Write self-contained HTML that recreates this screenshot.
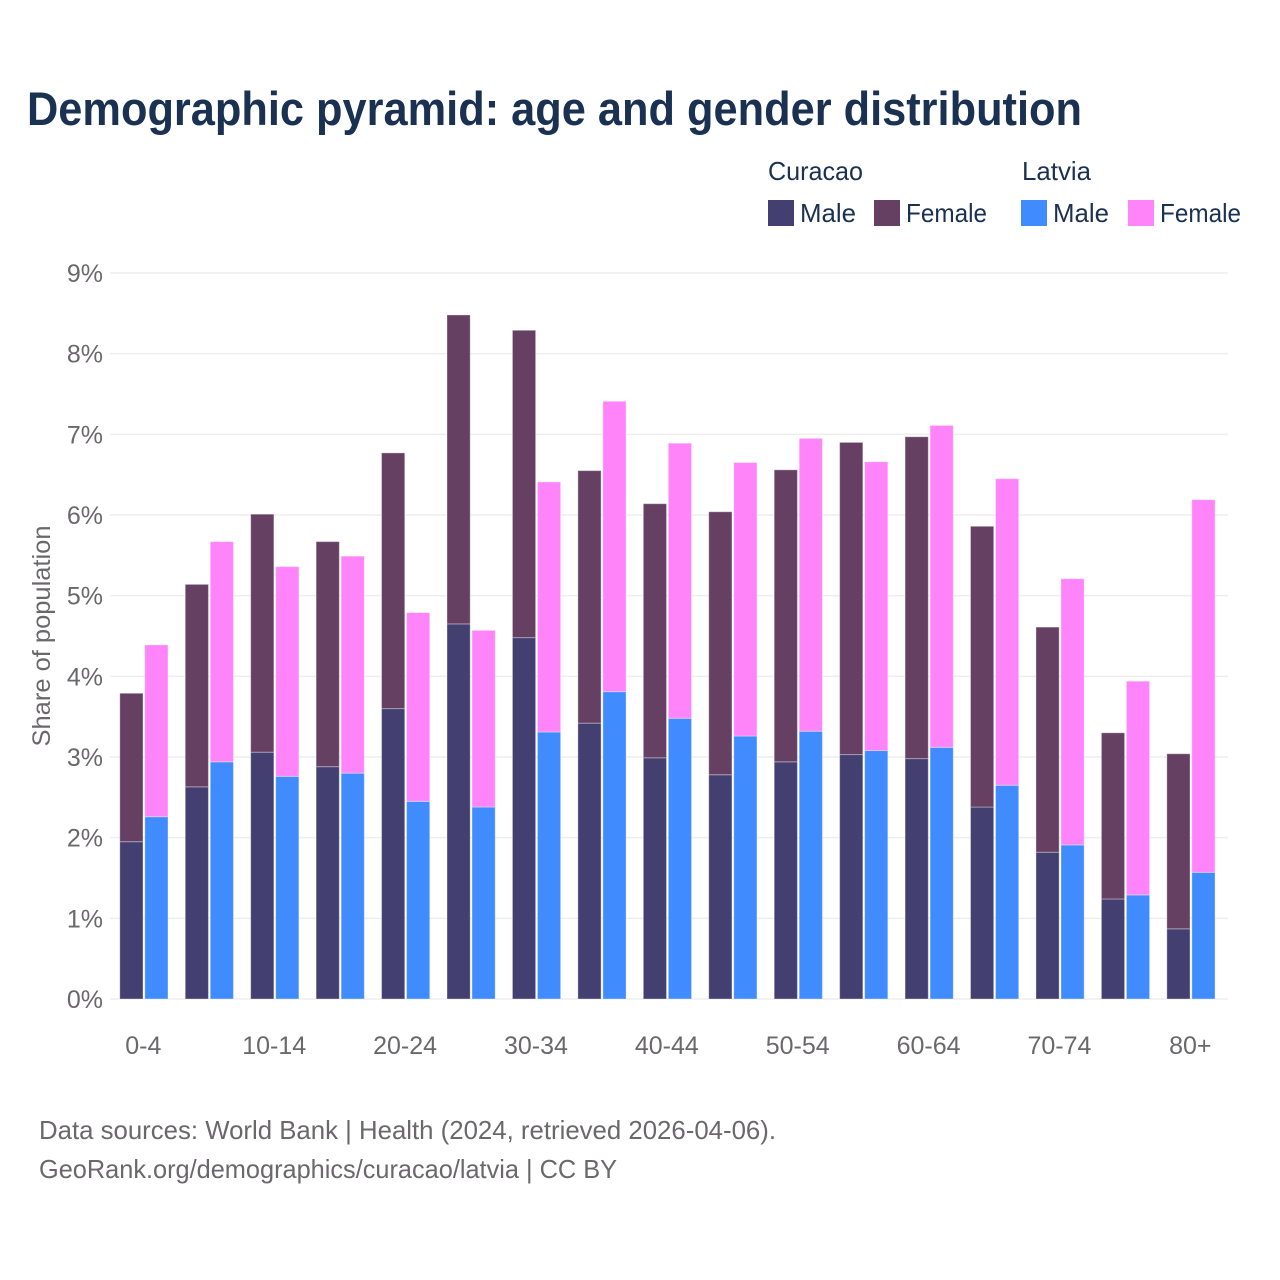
<!DOCTYPE html>
<html lang="en">
<head>
<meta charset="utf-8">
<title>Demographic pyramid: age and gender distribution</title>
<style>
html,body{margin:0;padding:0;background:#fff;}
svg{display:block;font-family:"Liberation Sans",sans-serif;}
</style>
</head>
<body>
<svg id="chart" xmlns="http://www.w3.org/2000/svg" width="1280" height="1280" viewBox="0 0 1280 1280">
  <rect width="1280" height="1280" fill="#ffffff"/>
  <text x="27" y="125" font-size="47" font-weight="700" fill="#1a3152" textLength="1055" lengthAdjust="spacingAndGlyphs">Demographic pyramid: age and gender distribution</text>

  <g font-size="26" fill="#1a3152">
    <text x="768" y="180" textLength="95" lengthAdjust="spacingAndGlyphs">Curacao</text>
    <text x="1022" y="180" textLength="69" lengthAdjust="spacingAndGlyphs">Latvia</text>
    <rect x="768" y="200" width="26" height="26" fill="#433f70"/>
    <text x="800" y="222" textLength="56" lengthAdjust="spacingAndGlyphs">Male</text>
    <rect x="874" y="200" width="26" height="26" fill="#654062"/>
    <text x="906" y="222" textLength="81" lengthAdjust="spacingAndGlyphs">Female</text>
    <rect x="1021" y="200" width="26" height="26" fill="#408cff"/>
    <text x="1053" y="222" textLength="56" lengthAdjust="spacingAndGlyphs">Male</text>
    <rect x="1128" y="200" width="26" height="26" fill="#ff84f9"/>
    <text x="1160" y="222" textLength="81" lengthAdjust="spacingAndGlyphs">Female</text>
  </g>

  <g id="grid"></g>
  <g id="yticks"></g>
  <g id="bars"></g>
  <g id="xticks"></g>

  <text transform="translate(50,636) rotate(-90)" text-anchor="middle" font-size="25" fill="#6b686c" textLength="221" lengthAdjust="spacingAndGlyphs">Share of population</text>

  <text x="39" y="1139" font-size="26" fill="#6b686c" textLength="737" lengthAdjust="spacingAndGlyphs">Data sources: World Bank | Health (2024, retrieved 2026-04-06).</text>
  <text x="39" y="1178" font-size="26" fill="#6b686c" textLength="578" lengthAdjust="spacingAndGlyphs">GeoRank.org/demographics/curacao/latvia | CC BY</text>
</svg>
<script>
const ageGroups = ["0-4","5-9","10-14","15-19","20-24","25-29","30-34","35-39","40-44","45-49","50-54","55-59","60-64","65-69","70-74","75-79","80+"];
const shownAgeLabels = ["0-4","10-14","20-24","30-34","40-44","50-54","60-64","70-74","80+"];
const curacaoMale = [1.95,2.63,3.06,2.88,3.60,4.65,4.48,3.42,2.99,2.78,2.94,3.03,2.98,2.38,1.82,1.24,0.87];
const curacaoFemale = [1.84,2.51,2.95,2.79,3.17,3.83,3.81,3.13,3.15,3.26,3.62,3.87,3.99,3.48,2.79,2.06,2.17];
const latviaMale = [2.26,2.94,2.76,2.80,2.45,2.38,3.31,3.81,3.48,3.26,3.32,3.08,3.12,2.65,1.91,1.29,1.57];
const latviaFemale = [2.13,2.73,2.60,2.69,2.34,2.19,3.10,3.60,3.41,3.39,3.63,3.58,3.99,3.80,3.30,2.65,4.62];
const yTicks = [0,1,2,3,4,5,6,7,8,9];

const NS = "http://www.w3.org/2000/svg";
const plotLeft = 110, plotRight = 1228, baseY = 999, topY = 273, maxY = 9;
const firstGroupX = 119.8, groupStep = 65.44, barW = 23.2, barGap = 25;

function yScale(v){ return baseY - (v / maxY) * (baseY - topY); }
function xScale(i){ return firstGroupX + i * groupStep; }
function make(tag, attrs){
  const el = document.createElementNS(NS, tag);
  for (const k in attrs) el.setAttribute(k, attrs[k]);
  return el;
}

const grid = document.getElementById("grid");
const yLabels = document.getElementById("yticks");
yTicks.forEach(function(t){
  const line = make("line", {x1: plotLeft, x2: plotRight, y1: yScale(t), y2: yScale(t), stroke: "#eeeeee", "stroke-width": 1.5});
  
  
  grid.appendChild(line);
  const label = make("text", {x: 103, y: yScale(t) + 9, "text-anchor": "end", "font-size": 25, fill: "#6b686c"});
  
  
  label.textContent = t + "%";
  yLabels.appendChild(label);
});

const bars = document.getElementById("bars");
function addBar(x, bottom, value, color, name){
  const y0 = yScale(bottom), y1 = yScale(bottom + value);
  const r = make("rect", {x: x, y: y1, width: barW, height: y0 - y1, fill: color, stroke: "#ffffff", "stroke-opacity": 0.35, "stroke-width": 1});
  
  
  bars.appendChild(r);
}
ageGroups.forEach(function(age, i){
  const x = xScale(i);
  addBar(x, 0, curacaoMale[i], "#433f70", "bar-curacao-male");
  addBar(x, curacaoMale[i], curacaoFemale[i], "#654062", "bar-curacao-female");
  addBar(x + barGap, 0, latviaMale[i], "#408cff", "bar-latvia-male");
  addBar(x + barGap, latviaMale[i], latviaFemale[i], "#ff84f9", "bar-latvia-female");
});

const xLabels = document.getElementById("xticks");
ageGroups.forEach(function(age, i){
  if (shownAgeLabels.indexOf(age) < 0) return;
  const label = make("text", {x: xScale(i) + 23.5, y: 1054, "text-anchor": "middle", "font-size": 25, fill: "#6b686c"});
  
  
  label.textContent = age;
  xLabels.appendChild(label);
});
</script>
</body>
</html>
